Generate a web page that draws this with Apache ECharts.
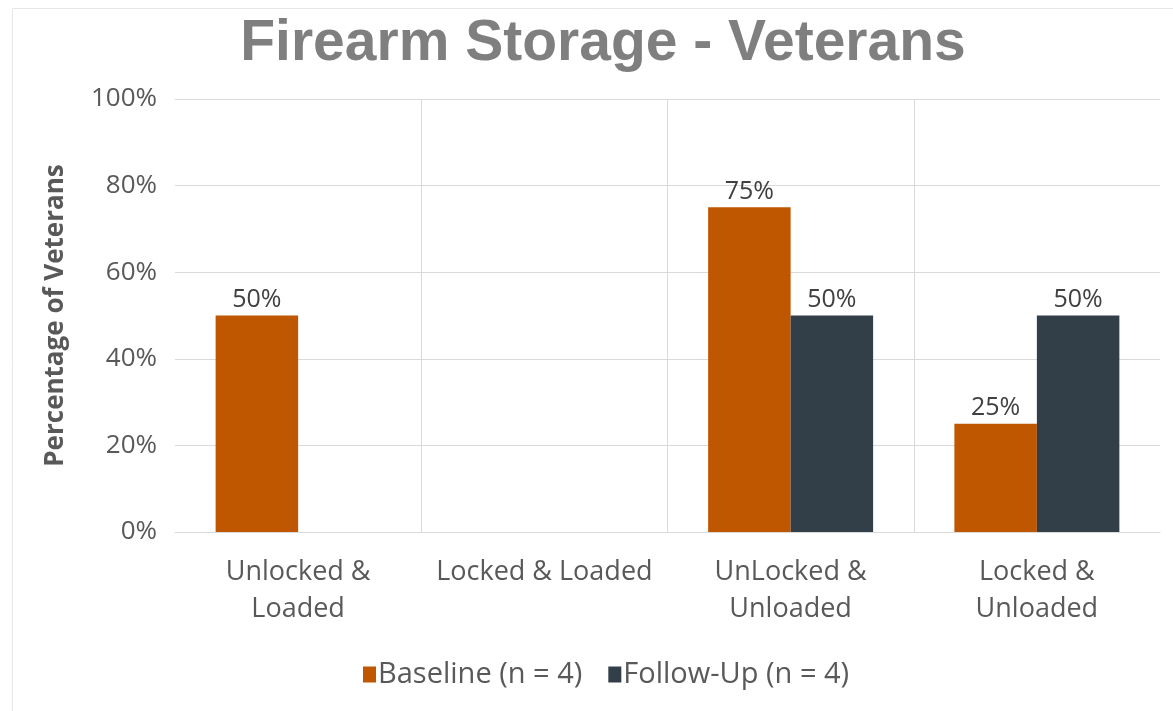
<!DOCTYPE html>
<html>
<head>
<meta charset="utf-8">
<script src="https://cdn.jsdelivr.net/npm/echarts@6/dist/echarts.min.js"></script>
<style>
  html, body { margin: 0; padding: 0; background: #ffffff; }
  #chart { width: 1173px; height: 711px; }
</style>
</head>
<body>
<div id="chart"></div>
<script>
// Storage categories and the share of veterans (%) in each, per survey wave
const categories = ['Unlocked &\nLoaded', 'Locked & Loaded', 'UnLocked &\nUnloaded', 'Locked &\nUnloaded'];
const baseline = [50, null, 75, 25];
const followUp = [null, null, 50, 50];
const yTicks = [0, 20, 40, 60, 80, 100];

const seriesNames = ['Baseline (n = 4)', 'Follow-Up (n = 4)'];
const colors = ['#BF5700', '#333F48'];
const font = '"Open Sans", "Noto Sans", sans-serif';

const chart = echarts.init(document.getElementById('chart'), null, { renderer: 'canvas' });

const labelStyle = {
  show: true,
  position: 'top',
  distance: 3,
  color: '#404040',
  fontFamily: font,
  fontSize: 25,
  formatter: p => (p.value == null ? '' : p.value + '%')
};

chart.setOption({
  backgroundColor: '#ffffff',
  animation: false,
  title: {
    text: 'Firearm Storage - Veterans',
    left: 598,
    textAlign: 'center',
    top: 11,
    textStyle: {
      fontFamily: '"Liberation Sans", Arial, sans-serif',
      fontWeight: 'bold',
      fontSize: 57,
      color: '#7F7F7F'
    }
  },
  legend: {
    bottom: 17,
    left: 358,
    itemWidth: 13,
    itemHeight: 16,
    itemGap: 26,
    icon: 'rect',
    textStyle: { fontFamily: font, fontSize: 29, color: '#595959', padding: [0, 0, 0, -3] },
    data: seriesNames
  },
  grid: { left: 175, right: 13, top: 99, bottom: 179, containLabel: false },
  xAxis: {
    type: 'category',
    data: categories,
    axisLine: { lineStyle: { color: '#D9D9D9', width: 1 } },
    axisTick: { show: false },
    splitLine: { show: true, showMinLine: false, showMaxLine: false, lineStyle: { color: '#D9D9D9', width: 1 } },
    axisLabel: {
      interval: 0,
      margin: 22,
      fontFamily: font,
      fontSize: 27,
      lineHeight: 37,
      color: '#595959'
    }
  },
  yAxis: {
    type: 'value',
    min: yTicks[0],
    max: yTicks[yTicks.length - 1],
    interval: yTicks[1] - yTicks[0],
    name: 'Percentage of Veterans',
    nameLocation: 'middle',
    nameGap: 106,
    nameTextStyle: { fontFamily: font, fontSize: 26, fontWeight: 'bold', color: '#595959' },
    axisLine: { show: false },
    axisTick: { show: false },
    splitLine: { lineStyle: { color: '#D9D9D9', width: 1 } },
    axisLabel: {
      margin: 18,
      fontFamily: font,
      fontSize: 26,
      color: '#595959',
      formatter: v => v + '%'
    }
  },
  series: [
    {
      name: seriesNames[0],
      type: 'bar',
      data: baseline,
      barGap: '0%',
      barCategoryGap: '33%',
      itemStyle: { color: colors[0] },
      label: labelStyle
    },
    {
      name: seriesNames[1],
      type: 'bar',
      data: followUp,
      itemStyle: { color: colors[1] },
      label: labelStyle
    }
  ],
  graphic: [{
    type: 'rect',
    left: 10,
    top: 6,
    shape: { width: 1200, height: 800 },
    style: { fill: 'none', stroke: '#E6E6E6', lineWidth: 1 },
    silent: true,
    z: -1
  }]
});
</script>
</body>
</html>
